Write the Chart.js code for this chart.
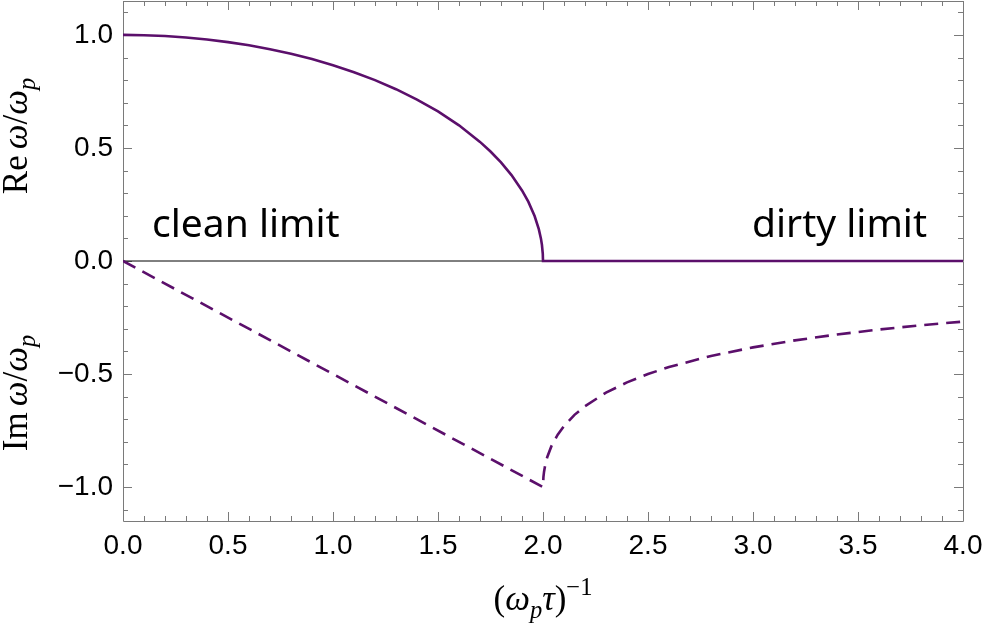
<!DOCTYPE html>
<html>
<head>
<meta charset="utf-8">
<script src="https://cdn.jsdelivr.net/npm/chart.js@4/dist/chart.umd.min.js"></script>
<style>
  html, body { margin: 0; padding: 0; background: #ffffff; }
  #wrap { width: 987px; height: 623px; position: relative; }
</style>
</head>
<body>
<div id="wrap"><canvas id="c" width="987" height="623"></canvas></div>
<script>
// ---- data ----
const reX = [0, 0.1, 0.2, 0.3, 0.4, 0.5, 0.6, 0.7, 0.8, 0.9, 1.0, 1.1, 1.2, 1.3, 1.4, 1.5, 1.6, 1.7, 1.75, 1.8, 1.85, 1.9, 1.93, 1.96, 1.98, 1.99, 1.995, 1.999, 2.0, 4.0];
const reY = [1.0, 0.9987, 0.995, 0.9887, 0.9798, 0.9682, 0.9539, 0.9367, 0.9165, 0.893, 0.866, 0.8352, 0.8, 0.7599, 0.7141, 0.6614, 0.6, 0.5268, 0.4841, 0.4359, 0.38, 0.3122, 0.2623, 0.199, 0.141, 0.0999, 0.0707, 0.0316, 0.0, 0.0];
const imX = [0, 2.0, 2.002, 2.005, 2.01, 2.02, 2.04, 2.07, 2.1, 2.15, 2.2, 2.3, 2.4, 2.5, 2.6, 2.8, 3.0, 3.2, 3.4, 3.6, 3.8, 4.0];
const imY = [0, -1.0, -0.956, -0.932, -0.905, -0.868, -0.819, -0.768, -0.73, -0.6805, -0.642, -0.582, -0.537, -0.5, -0.469, -0.42, -0.382, -0.351, -0.325, -0.303, -0.284, -0.268];
const zeroX = [0, 4];
const zeroY = [0, 0];
const xTicks = [0, 0.5, 1.0, 1.5, 2.0, 2.5, 3.0, 3.5, 4.0];
const yTicks = [-1.0, -0.5, 0.0, 0.5, 1.0];
const annotations = ["clean limit", "dirty limit"];

const pts = (xs, ys) => xs.map((x, i) => ({ x: x, y: ys[i] }));
const PURPLE = '#5b0f6b';
const FRAME = '#7a7a7a';
const fmt = v => (v < 0 ? '\u2212' + Math.abs(v).toFixed(1) : v.toFixed(1));

function drawMath(ctx, pieces, size) {
  return pieces.map(p => {
    const fs = p[2] ? size * 0.7 : size;
    const font = (p[1] ? 'italic ' : '') + fs + 'px "Liberation Serif", "DejaVu Serif", serif';
    ctx.font = font;
    return { t: p[0], font: font, w: ctx.measureText(p[0]).width + (p[3] || 0), dy: p[2] === 'sub' ? size * 0.22 : (p[2] === 'sup' ? -size * 0.42 : 0) };
  });
}
function renderSegs(ctx, segs, x0, y0) {
  let x = x0;
  segs.forEach(s => {
    ctx.font = s.font;
    ctx.fillText(s.t, x, y0 + s.dy);
    x += s.w;
  });
}
const segWidth = segs => segs.reduce((a, s) => a + s.w, 0);

const framePlugin = {
  id: 'framePlugin',
  beforeDatasetsDraw(chart) {
    const ctx = chart.ctx, a = chart.chartArea;
    const xs = chart.scales.x, ys = chart.scales.y;
    ctx.save();
    ctx.strokeStyle = FRAME;
    ctx.lineWidth = 1;
    ctx.beginPath();
    ctx.rect(Math.round(a.left) + 0.5, Math.round(a.top) + 0.5, Math.round(a.right - a.left), Math.round(a.bottom - a.top));
    ctx.stroke();
    ctx.beginPath();
    for (let i = 0; i <= 40; i++) {
      const v = i / 10;
      const px = Math.round(xs.getPixelForValue(v)) + 0.5;
      const L = (i % 5 === 0) ? 9 : 5;
      ctx.moveTo(px, a.bottom); ctx.lineTo(px, a.bottom - L);
      ctx.moveTo(px, a.top); ctx.lineTo(px, a.top + L);
    }
    for (let i = -11; i <= 11; i++) {
      const v = i / 10;
      const py = Math.round(ys.getPixelForValue(v)) + 0.5;
      const L = (i % 5 === 0) ? 9 : 5;
      ctx.moveTo(a.left, py); ctx.lineTo(a.left + L, py);
      ctx.moveTo(a.right, py); ctx.lineTo(a.right - L, py);
    }
    ctx.stroke();
    ctx.restore();
  },
  afterDraw(chart) {
    const ctx = chart.ctx, a = chart.chartArea;
    ctx.save();
    ctx.fillStyle = '#000';
    ctx.textBaseline = 'alphabetic';
    ctx.font = '39px "Noto Sans", sans-serif';
    ctx.textAlign = 'left';
    ctx.fillText(annotations[0], 152, 237);
    ctx.textAlign = 'right';
    ctx.fillText(annotations[1], 927, 237);
    ctx.textAlign = 'left';
    const S = 35;
    const reSegs = drawMath(ctx, [['Re', false, false, 6], ['\u03C9', true, false], ['/', false, false], ['\u03C9', true, false], ['p', true, 'sub']], S);
    ctx.save();
    ctx.translate(27, 136);
    ctx.rotate(-Math.PI / 2);
    renderSegs(ctx, reSegs, -segWidth(reSegs) / 2, 0);
    ctx.restore();
    const imSegs = drawMath(ctx, [['Im', false, false, 6], ['\u03C9', true, false], ['/', false, false], ['\u03C9', true, false], ['p', true, 'sub']], S);
    ctx.save();
    ctx.translate(27, 393);
    ctx.rotate(-Math.PI / 2);
    renderSegs(ctx, imSegs, -segWidth(imSegs) / 2, 0);
    ctx.restore();
    const xSegs = drawMath(ctx, [['(', false, false], ['\u03C9', true, false], ['p', true, 'sub'], ['\u03C4', true, false], [')', false, false], ['\u22121', false, 'sup']], S);
    renderSegs(ctx, xSegs, (a.left + a.right) / 2 - segWidth(xSegs) / 2, 610);
    ctx.restore();
  }
};

new Chart(document.getElementById('c'), {
  type: 'line',
  data: {
    datasets: [
      { label: 'zero', data: pts(zeroX, zeroY), borderColor: '#000', borderWidth: 1, pointRadius: 0, tension: 0, order: 3 },
      { label: 'Im', data: pts(imX, imY), borderColor: PURPLE, borderWidth: 2.6, borderDash: [14, 8], pointRadius: 0, tension: 0, order: 2 },
      { label: 'Re', data: pts(reX, reY), borderColor: PURPLE, borderWidth: 2.6, pointRadius: 0, tension: 0, order: 1 }
    ]
  },
  options: {
    responsive: false,
    animation: false,
    layout: { padding: { top: 1, right: 24, left: 0, bottom: 0 } },
    plugins: { legend: { display: false }, tooltip: { enabled: false } },
    scales: {
      x: {
        type: 'linear', min: 0, max: 4,
        afterBuildTicks: s => { s.ticks = xTicks.map(v => ({ value: v })); },
        afterFit: s => { s.height = 102; s.paddingLeft = 0; s.paddingRight = 0; },
        grid: { display: false, drawTicks: false },
        border: { display: false },
        ticks: { callback: v => fmt(v), color: '#000', padding: 8, maxRotation: 0, font: { family: '"Liberation Sans", Arial, sans-serif', size: 28 } }
      },
      y: {
        type: 'linear', min: -1.15, max: 1.15,
        afterBuildTicks: s => { s.ticks = yTicks.map(v => ({ value: v })); },
        afterFit: s => { s.width = 123; s.paddingTop = 0; s.paddingBottom = 0; },
        grid: { display: false, drawTicks: false },
        border: { display: false },
        ticks: { callback: v => fmt(v), color: '#000', padding: 10, font: { family: '"Liberation Sans", Arial, sans-serif', size: 28 } }
      }
    }
  },
  plugins: [framePlugin]
});
</script>
</body>
</html>
